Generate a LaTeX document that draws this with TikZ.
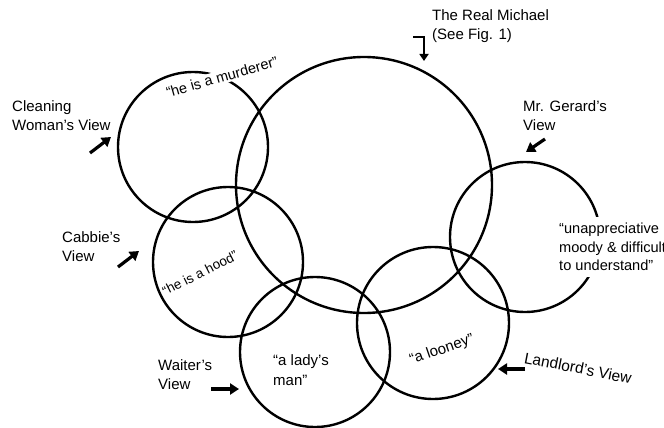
\documentclass[tikz,border=0pt]{standalone}
\usepackage{fontspec}
\setmainfont{Liberation Sans}
\usetikzlibrary{arrows.meta}

\begin{document}
\begin{tikzpicture}[x=1pt, y=-1pt,
    ring/.style={circle, draw, line width=2.4pt, minimum size=#1, inner sep=0pt},
    view/.style={align=left, anchor=west, inner sep=0pt, font=\fontsize{15}{19}\selectfont},
    saying/.style={inner sep=1.5pt, fill=white, font=\fontsize{14.5}{18}\selectfont},
    pointer/.style={-{Triangle[length=9pt, width=11pt]}, line width=3.2pt}
]
\useasboundingbox (0,0) rectangle (664,428);
\clip (0,0) rectangle (664,428);

\node[ring=256pt] (michael) at (364,185) {};
\node[ring=150pt] (cleaner) at (193,147) {};
\node[ring=150pt] (cabbie) at (228,262) {};
\node[ring=150pt] (waiter) at (315,352) {};
\node[ring=152pt] (landlord) at (433,323) {};
\node[ring=150pt] (gerard) at (525,237) {};

\node[saying, rotate=16] (murderer) at (222,77) {``he is a murderer''};
\node[saying, rotate=27, fill=none, font=\fontsize{13.5}{16}\selectfont] (hood) at (200,273) {``he is a hood''};
\node[saying, rotate=19, fill=none, font=\fontsize{15}{18}\selectfont] (looney) at (442,350) {``a looney''};
\node[view, font=\fontsize{15}{20}\selectfont] (ladies) at (273,370) {``a lady's\\man''};
\node[view, fill=white, inner sep=6pt, font=\fontsize{14.6}{18.5}\selectfont] (moody) at (553,247) {``unappreciative\\moody \& difficult\\to understand''};

\node[view] (realm) at (432,26) {The Real Michael\\(See Fig. 1)};
\node[view] (cleanv) at (12,115.5) {Cleaning\\Woman's View};
\node[view] (gerardv) at (523,115.5) {Mr. Gerard's\\View};
\node[view] (cabbiev) at (62,247) {Cabbie's\\View};
\node[view] (waiterv) at (158,374.5) {Waiter's\\View};
\node[view, anchor=center, rotate=-11, font=\fontsize{15.5}{19}\selectfont] (landlordv) at (578,368) {Landlord's View};

\coordinate (realm tail) at (413,37);
\coordinate (realm bend) at (424,37);
\coordinate (realm tip) at (424,61);
\coordinate (cleanv tail) at (90,153);
\coordinate (cleanv tip) at (111,137);
\coordinate (gerardv tail) at (545,139);
\coordinate (gerardv tip) at (526,152);
\coordinate (cabbiev tail) at (118,267);
\coordinate (cabbiev tip) at (139,251);
\coordinate (waiterv tail) at (211,389);
\coordinate (waiterv tip) at (239,389);
\coordinate (landlordv tail) at (525,369);
\coordinate (landlordv tip) at (498,369);

\draw[-{Triangle[length=7pt, width=9pt]}, line width=2pt] (realm tail) -- (realm bend) -- (realm tip);
\draw[pointer] (cleanv tail) -- (cleanv tip);
\draw[pointer] (gerardv tail) -- (gerardv tip);
\draw[pointer] (cabbiev tail) -- (cabbiev tip);
\draw[pointer] (waiterv tail) -- (waiterv tip);
\draw[pointer] (landlordv tail) -- (landlordv tip);
\end{tikzpicture}
\end{document}
